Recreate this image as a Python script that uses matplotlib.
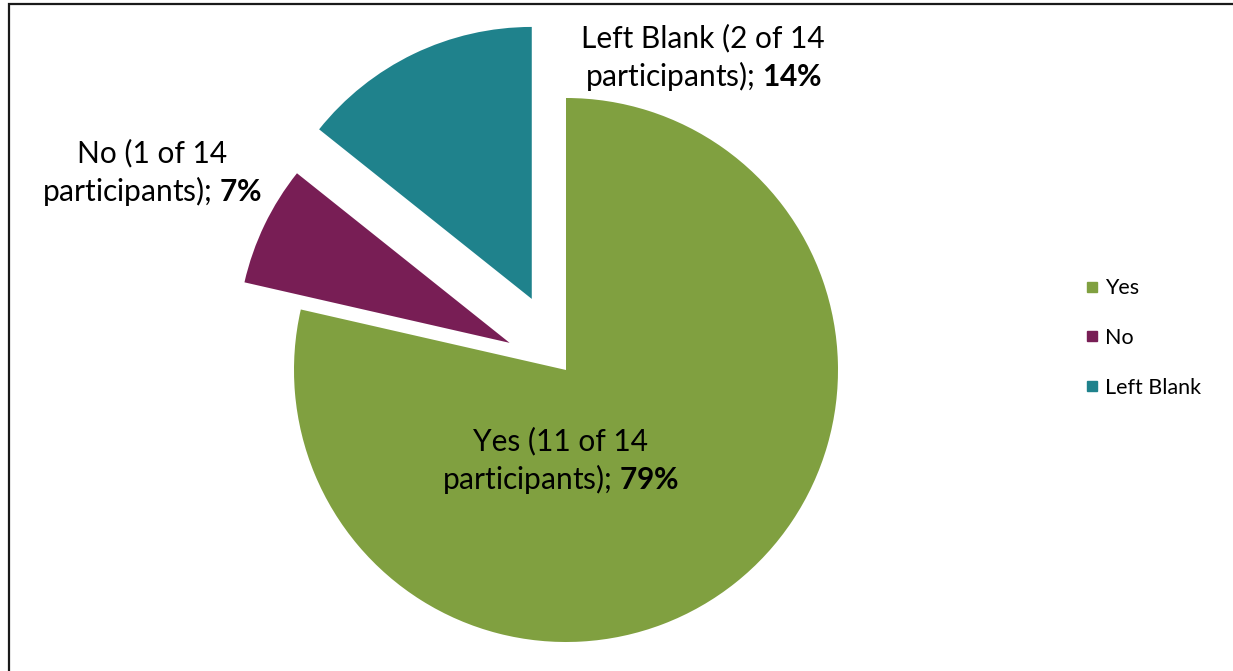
import matplotlib
matplotlib.use("Agg")
import matplotlib.pyplot as plt
from matplotlib.lines import Line2D
from matplotlib.patches import Rectangle

# Survey answers
categories = ["Yes", "No", "Left Blank"]
counts = [11, 1, 2]
total = 14
colors = ["#80A040", "#781E55", "#1F828C"]
explode = [0.0, 0.23, 0.29]

plt.rcParams["font.family"] = ["Lato", "DejaVu Sans"]
plt.rcParams["mathtext.fontset"] = "custom"
plt.rcParams["mathtext.rm"] = "Lato"
plt.rcParams["mathtext.bf"] = "Lato:bold"

W, H = 1233, 671
fig = plt.figure(figsize=(W / 100, H / 100), dpi=100)
ax = fig.add_axes([0, 0, 1, 1])

# pie centre / radius in pixels
cx, cy, r = 566, 370, 272

ax.pie(counts, colors=colors, explode=explode, startangle=90,
       counterclock=False, radius=1.0, center=(0, 0), frame=True,
       wedgeprops=dict(linewidth=0))
ax.set_xlim(-cx / r, (W - cx) / r)
ax.set_ylim(-(H - cy) / r, cy / r)
ax.axis("off")

# data labels
label_pos = [(-0.02, -0.335), (-1.522, 0.724), (0.504, 1.147)]
for name, n, (lx, ly) in zip(categories, counts, label_pos):
    pct = round(100 * n / total)
    txt = f"{name} ({n} of {total}\nparticipants); $\\mathbf{{{pct}\\%}}$"
    ax.text(lx, ly, txt, ha="center", va="center", fontsize=21.5,
            color="black", linespacing=1.24)

handles = [Line2D([], [], marker="s", linestyle="none", markersize=7,
                  markerfacecolor=c, markeredgecolor=c) for c in colors]
fig.legend(handles, categories, loc="center left",
           bbox_to_anchor=(1075 / W, 1 - 338 / H), frameon=False,
           fontsize=15.5, handlelength=0.6, handletextpad=0.3,
           labelspacing=1.38, borderpad=0)

# chart frame
fig.patches.append(Rectangle((9 / W, -0.1), 1.2, 1.1 - 4 / H,
                             transform=fig.transFigure, fill=False,
                             edgecolor="#1a1a1a", linewidth=1.6))

fig.savefig("out.png", dpi=100)
